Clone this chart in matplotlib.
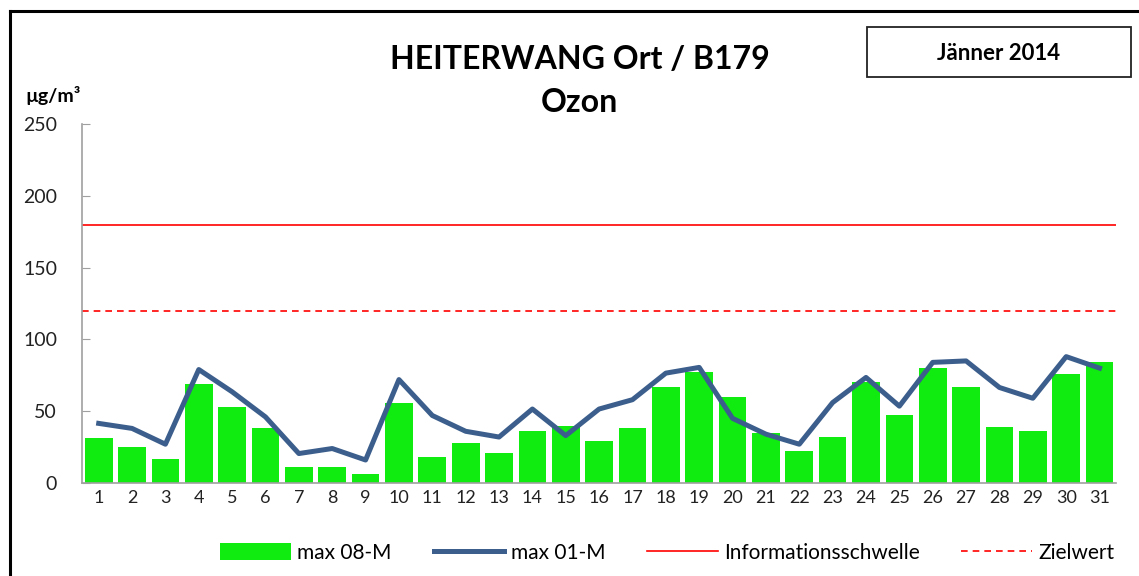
import numpy as np
import matplotlib
matplotlib.use("Agg")
import matplotlib.pyplot as plt
from matplotlib.lines import Line2D
from matplotlib.patches import Rectangle

plt.rcParams['font.family'] = ['Lato', 'DejaVu Sans']

# Tageswerte Jänner 2014
tage = list(range(1, 32))
max_08m = [31, 25, 17, 69, 53, 38, 11, 11, 6, 56,
           18, 28, 21, 36, 40, 29, 38, 67, 77, 60,
           35, 22, 32, 70, 47, 80, 67, 39, 36, 76, 84]
max_01m = [41.5, 38, 27, 79, 63.5, 46, 20.5, 24, 16, 72,
           47, 36, 32, 51.5, 33, 51.5, 58, 76.5, 80.5, 45,
           34, 27, 56, 73.5, 53.5, 84, 85, 66.5, 59, 88, 80]
info_schwelle = 180
zielwert = 120

fig = plt.figure(figsize=(11.39, 5.76), dpi=100)
ax = fig.add_axes([0.072, 0.1615, 0.908, 0.6232])

h_bar = ax.bar(tage, max_08m, width=0.83, color='#10EB10', label='max 08-M', zorder=2)
h_line, = ax.plot(tage, max_01m, color='#3B5E8C', lw=3.6, label='max 01-M', zorder=3)
h_info = ax.axhline(info_schwelle, color='#FF0000', lw=1.2, label='Informationsschwelle', zorder=1)
h_ziel = ax.axhline(zielwert, color='#FF0000', lw=1.2, ls=(0, (4, 3)), label='Zielwert', zorder=1)

ax.set_xlim(0.5, 31.5)
ax.set_ylim(0, 250)
ax.set_yticks([0, 50, 100, 150, 200, 250])
ax.set_xticks(tage)
ax.set_xticklabels([str(t) for t in tage])

for s in ['top', 'right']:
    ax.spines[s].set_visible(False)
for s in ['left', 'bottom']:
    ax.spines[s].set_color('#A0A0A0')
    ax.spines[s].set_linewidth(1.2)
ax.tick_params(axis='y', direction='in', length=6, color='#A0A0A0',
               labelsize=14, pad=18, labelcolor='#222222')
ax.tick_params(axis='x', length=0, labelsize=13, pad=5, labelcolor='#222222')

fig.text(0.509, 0.897, 'HEITERWANG Ort / B179', ha='center', va='center',
         fontsize=23, fontweight='bold')
fig.text(0.509, 0.822, 'Ozon', ha='center', va='center',
         fontsize=23, fontweight='bold')
fig.text(0.022, 0.834, 'µg/m³', ha='left', va='center',
         fontsize=14, fontweight='bold')

fig.add_artist(Rectangle((867 / 1139, 1 - 77 / 576), 264 / 1139, 50 / 576,
                         transform=fig.transFigure, fill=False,
                         edgecolor='#222222', lw=1.3))
fig.text(999 / 1139, 1 - 53 / 576, 'Jänner 2014', ha='center', va='center',
         fontsize=16, fontweight='bold')

# Rahmen oben/links
fig.add_artist(Line2D([10 / 1139, 1.0], [1 - 11 / 576] * 2, color='black', lw=2.2,
                      transform=fig.transFigure))
fig.add_artist(Line2D([10 / 1139] * 2, [0, 1 - 11 / 576], color='black', lw=2.2,
                      transform=fig.transFigure))

fig.legend([h_bar, h_line, h_info, h_ziel],
           ['max 08-M', 'max 01-M', 'Informationsschwelle', 'Zielwert'],
           loc='center', bbox_to_anchor=(0.586, 0.04), ncol=4, frameon=False,
           fontsize=15, handlelength=3.4, handleheight=0.9, handletextpad=0.3,
           columnspacing=2.0, borderaxespad=0)

fig.savefig('out.png', dpi=100)
